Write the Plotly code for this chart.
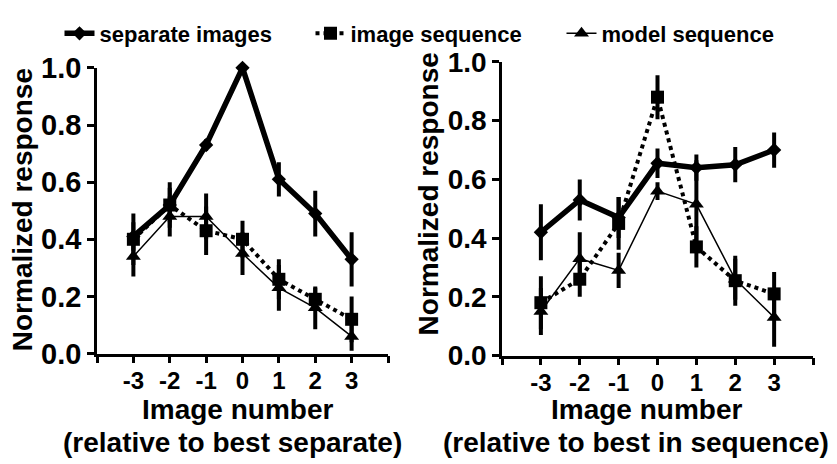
import plotly.graph_objects as go

# ---- data ----
image_number = [-3, -2, -1, 0, 1, 2, 3]
tick_vals = [-4, -3, -2, -1, 0, 1, 2, 3, 4]
tick_text = ["", "-3", "-2", "-1", "0", "1", "2", "3", ""]
y_ticks = [0.0, 0.2, 0.4, 0.6, 0.8, 1.0]
y_tick_text = ["0.0", "0.2", "0.4", "0.6", "0.8", "1.0"]

# left panel (relative to best separate)
sep_left = [0.41, 0.52, 0.73, 1.00, 0.61, 0.49, 0.33]
sep_left_err = [0.05, 0.08, 0.02, 0.0, 0.06, 0.08, 0.095]
img_left = [0.40, 0.52, 0.43, 0.40, 0.26, 0.19, 0.12]
img_left_err = [0.09, 0.06, 0.085, 0.065, 0.07, 0.04, 0.08]
mod_left = [0.34, 0.48, 0.48, 0.35, 0.23, 0.16, 0.06]
mod_left_err = [0.07, 0.07, 0.08, 0.075, 0.08, 0.075, 0.05]

# right panel (relative to best in sequence)
sep_right = [0.42, 0.53, 0.47, 0.655, 0.64, 0.65, 0.70]
sep_right_err = [0.095, 0.07, 0.07, 0.05, 0.045, 0.06, 0.06]
img_right = [0.18, 0.26, 0.45, 0.88, 0.37, 0.255, 0.21]
img_right_err = [0.09, 0.06, 0.09, 0.075, 0.07, 0.085, 0.075]
mod_right = [0.15, 0.33, 0.29, 0.56, 0.515, 0.26, 0.13]
mod_right_err = [0.08, 0.09, 0.06, 0.03, 0.15, 0.07, 0.10]

series_names = ["separate images", "image sequence", "model sequence"]

FONT = "Liberation Sans, Arial, sans-serif"
OFF = 8  # page body margin
W, H = 837 - OFF, 464 - OFF
ML, MR, MT, MB = 5, 5, 45, 60
PW, PH = W - ML - MR, H - MT - MB


def fx(px):
    return (px - OFF - ML) / PW


def fy(py):
    return 1 - (py - OFF - MT) / PH


styles = [
    dict(line=dict(color="black", width=5.5, dash="solid"),
         marker=dict(symbol="diamond", size=11, color="black")),
    dict(line=dict(color="black", width=4, dash="dot"),
         marker=dict(symbol="square", size=13, color="black")),
    dict(line=dict(color="black", width=1.5, dash="solid"),
         marker=dict(symbol="triangle-up", size=13, color="black")),
]

fig = go.Figure()

panels = [
    ("x", "y", [sep_left, img_left, mod_left], [sep_left_err, img_left_err, mod_left_err]),
    ("x2", "y2", [sep_right, img_right, mod_right], [sep_right_err, img_right_err, mod_right_err]),
]

for pi, (xa, ya, vals, errs) in enumerate(panels):
    for si in range(3):
        fig.add_trace(go.Scatter(
            x=image_number, y=vals[si],
            mode="lines+markers",
            name=series_names[si],
            legendgroup=series_names[si],
            showlegend=(pi == 0),
            line=styles[si]["line"],
            marker=styles[si]["marker"],
            error_y=dict(type="data", array=errs[si], visible=True,
                         color="black", thickness=4, width=0),
            cliponaxis=False,
            xaxis=xa, yaxis=ya,
        ))

axis_common = dict(
    showline=True, linecolor="black", linewidth=2.5,
    ticks="outside", ticklen=7, tickwidth=2.5, tickcolor="black",
    showgrid=False, zeroline=False, automargin=False,
)

fig.update_layout(
    width=W, height=H,
    margin=dict(l=ML, r=MR, t=MT, b=MB),
    paper_bgcolor="white", plot_bgcolor="white",
    template="none",
    font=dict(family=FONT, color="black", weight="bold"),
    xaxis=dict(domain=[fx(97), fx(388)], range=[-4, 4], tickvals=tick_vals, ticktext=tick_text,
               tickfont=dict(size=24, family=FONT, weight="bold"), anchor="y",
               ticklabelstandoff=-3, **axis_common),
    yaxis=dict(domain=[fy(353), fy(64)], range=[0, 1], tickvals=y_ticks, ticktext=y_tick_text,
               tickfont=dict(size=29, family=FONT, weight="bold"), anchor="x", **axis_common),
    xaxis2=dict(domain=[fx(502), fx(813)], range=[-4, 4], tickvals=tick_vals, ticktext=tick_text,
                tickfont=dict(size=24, family=FONT, weight="bold"), anchor="y2",
                ticklabelstandoff=-3, **axis_common),
    yaxis2=dict(domain=[fy(355), fy(58)], range=[0, 1], tickvals=y_ticks, ticktext=y_tick_text,
                tickfont=dict(size=28, family=FONT, weight="bold"), anchor="x2", **axis_common),
    legend=dict(orientation="h", x=fx(436), xanchor="center", y=fy(OFF), yanchor="top",
                font=dict(size=22, family=FONT, weight="bold"), bgcolor="rgba(0,0,0,0)",
                entrywidth=206, tracegroupgap=0),
    showlegend=True,
)

title_font = dict(size=28, family=FONT, color="black", weight="bold")
annotations = [
    dict(text="Normalized response", x=fx(22), y=fy(208), textangle=-90),
    dict(text="Normalized response", x=fx(428), y=fy(192), textangle=-90),
    dict(text="Image number", x=fx(237), y=fy(410)),
    dict(text="(relative to best separate)", x=fx(232), y=fy(443)),
    dict(text="Image number", x=fx(646), y=fy(410)),
    dict(text="(relative to best in sequence)", x=fx(636), y=fy(443)),
]
for a in annotations:
    fig.add_annotation(xref="paper", yref="paper", xanchor="center", yanchor="middle",
                       showarrow=False, font=title_font, **a)

fig.write_html("out.html")
